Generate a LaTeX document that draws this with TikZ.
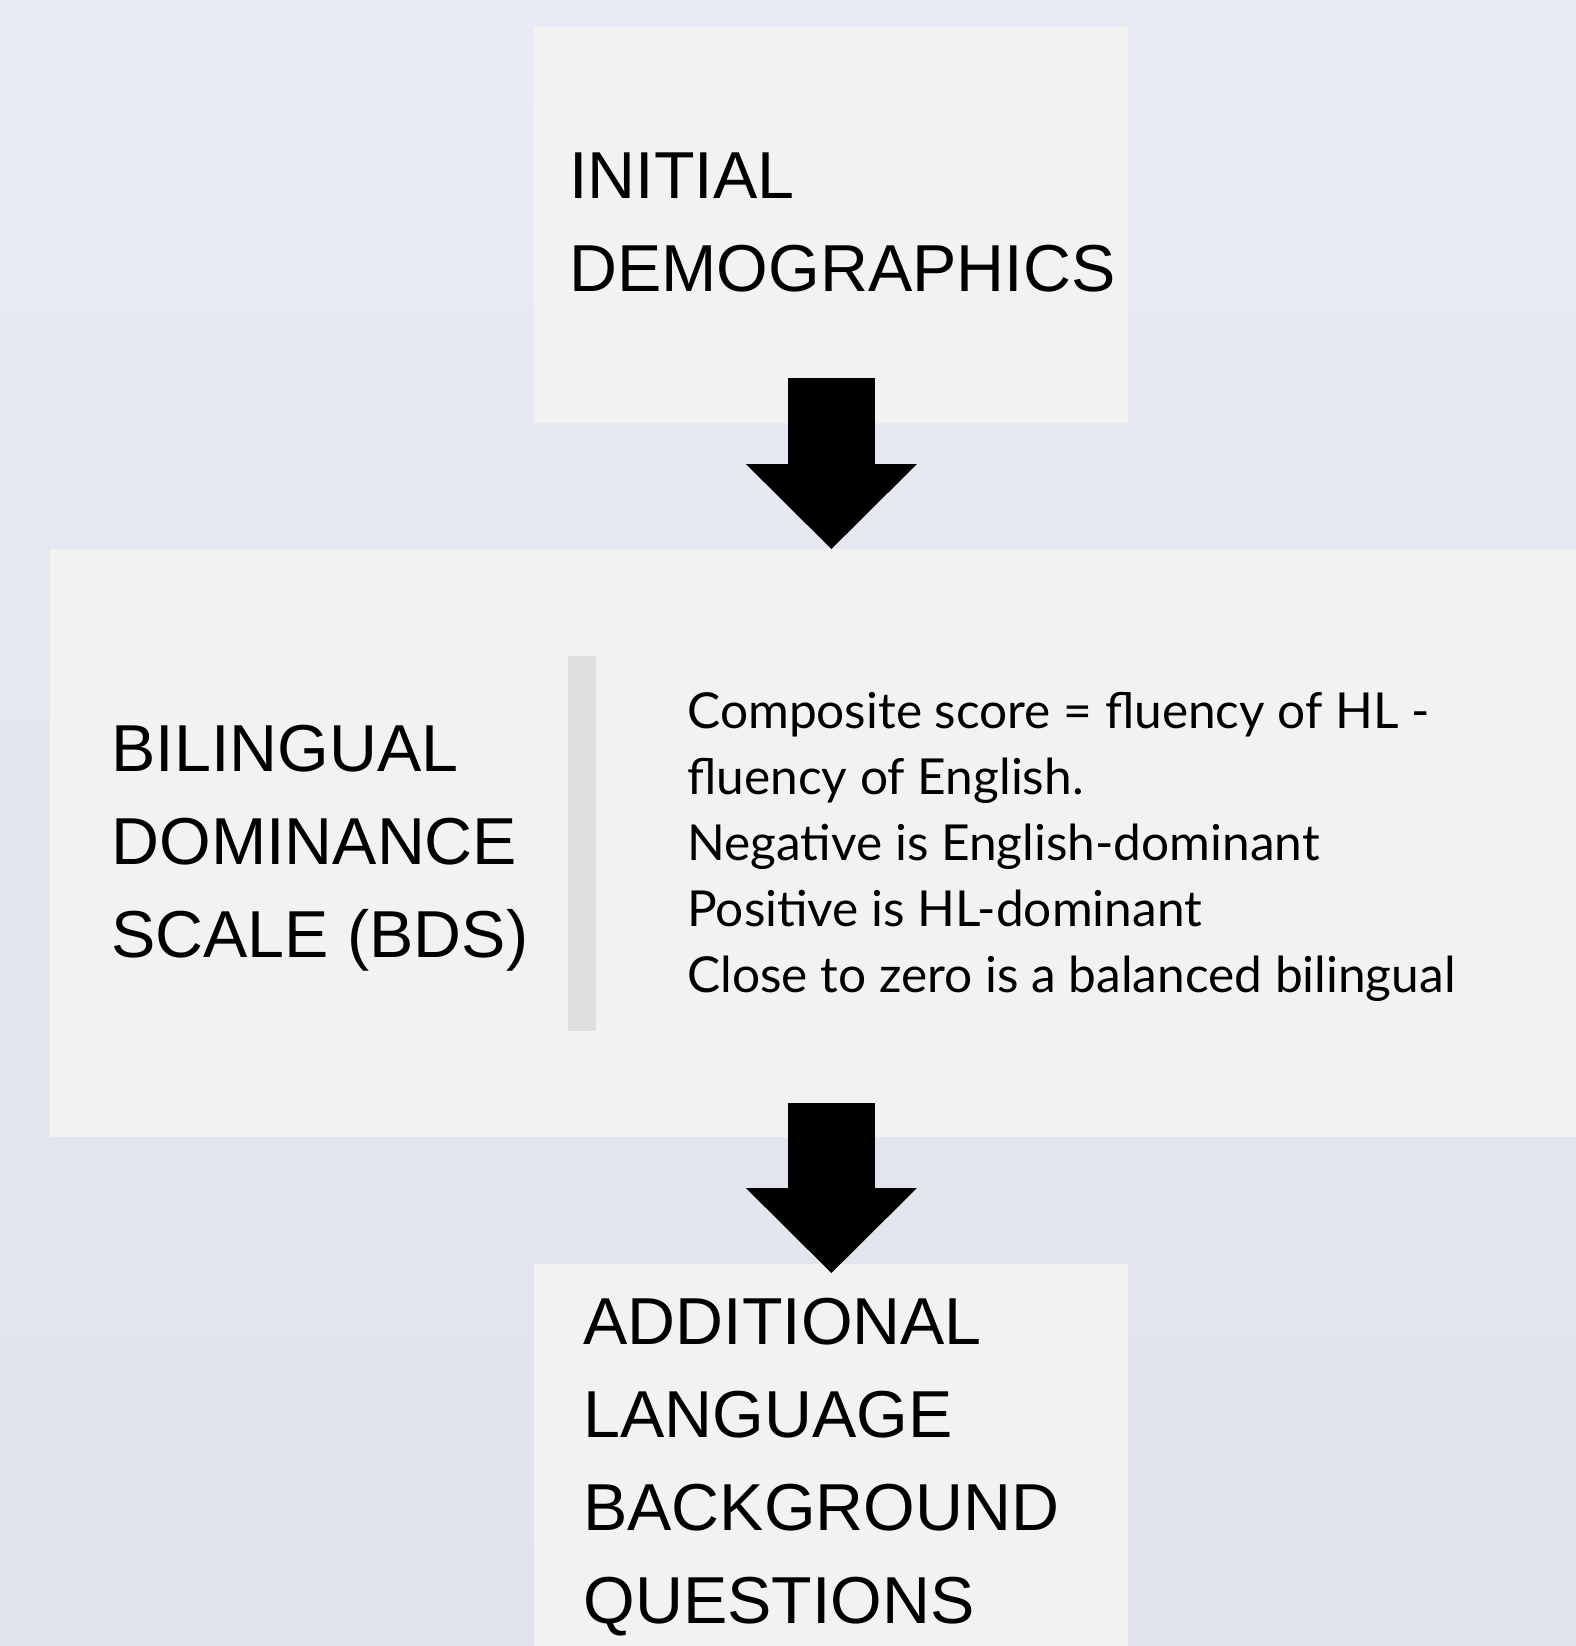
\documentclass[tikz,border=0pt]{standalone}
\usepackage{fontspec}
\setmainfont{Liberation Sans}
\newfontfamily\descfont{Lato}
\usepackage{tikz}
\usetikzlibrary{arrows.meta,positioning,calc}
\definecolor{bgtop}{HTML}{E8EBF4}
\definecolor{bgbot}{HTML}{E0E3EC}
\definecolor{boxfill}{HTML}{F1F2F1}
\definecolor{barfill}{HTML}{DEDFDE}
\tikzset{
  box/.style = {fill=boxfill, draw=none, rectangle, inner sep=0pt, anchor=north west},
  sidebar/.style = {fill=barfill, draw=none, rectangle, inner sep=0pt, anchor=north west, minimum width=14pt, minimum height=187.5pt},
  captext/.style = {font=\fontsize{33.2}{46.5}\selectfont, align=left, inner sep=0pt, anchor=base west},
  desctext/.style = {font=\descfont\fontsize{24.8}{33}\selectfont, align=left, inner sep=0pt, anchor=base west},
  bigarrow/.style = {draw=black, line width=43.5pt, -{Triangle[length=42.5pt, width=85.5pt, line width=0pt]}}
}

\begin{document}
\begin{tikzpicture}[x=0.5pt, y=-0.5pt]
            \shade[top color=bgtop, bottom color=bgbot] (0,0) rectangle (1576,1646);
            \useasboundingbox (0,0) rectangle (1576,1646);
            \node[box, minimum width=297pt, minimum height=198pt] (demo) at (534,27) {};
            \node[box, minimum width=763pt, minimum height=294pt] (bds) at (50,549) {};
            \node[box, minimum width=297pt, minimum height=191pt] (extra) at (534,1264) {};
            \node[captext] (demotxt) at (569,291) {INITIAL\\DEMOGRAPHICS};
            \node[captext] (bdstxt) at (111,957) {BILINGUAL\\DOMINANCE\\SCALE (BDS)};
            \node[sidebar] (rule) at (568,656) {};
            \node[desctext] (bdsnote) at (687,992) {Composite score = fluency of HL -\\fluency of English.\\Negative is English-dominant\\Positive is HL-dominant\\Close to zero is a balanced bilingual};
            \node[captext] (extratxt) at (583,1623) {ADDITIONAL\\LANGUAGE\\BACKGROUND\\QUESTIONS};
            \coordinate (a2) at (extra.north |- bds.south);
            \draw[bigarrow] ([yshift=23pt]demo.south) -- (demo.south |- bds.north);
            \draw[bigarrow] ([yshift=17.5pt]a2) -- ([yshift=-4.5pt]extra.north);
        \end{tikzpicture}
\end{document}
